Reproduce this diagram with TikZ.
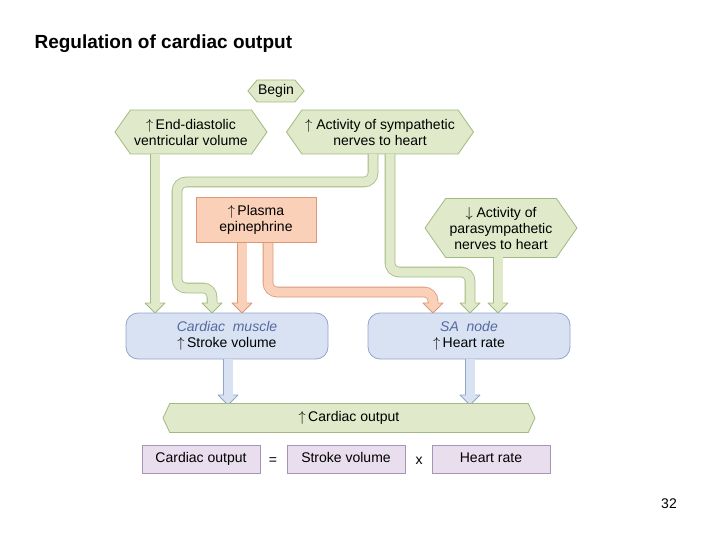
\documentclass[tikz,border=0pt]{standalone}
\usepackage{fontspec}
\setmainfont{Liberation Sans}
\usetikzlibrary{shapes.symbols}
\definecolor{gfill}{RGB}{224,233,201}
\definecolor{gbord}{RGB}{160,186,128}
\definecolor{ofill}{RGB}{251,208,184}
\definecolor{obord}{RGB}{222,150,118}
\definecolor{bfill}{RGB}{216,226,242}
\definecolor{bbord}{RGB}{148,164,202}
\definecolor{pfill}{RGB}{232,222,238}
\definecolor{pbord}{RGB}{168,148,182}
\definecolor{itc}{RGB}{85,105,160}
\newcommand{\fatarrow}[4]{%
 \draw[line width=0.8pt,draw=#2,double=#1,double distance=9pt,rounded corners=9pt] #3;
 \fill[#1,draw=#2,line width=0.8pt,line join=round] ($#4+(-10,-10)$) -- ($#4+(10,-10)$) -- #4 -- cycle;
 \fill[#1] ($#4+(-4.5,-11)$) rectangle ($#4+(4.5,-9)$);}
\usetikzlibrary{calc}
\begin{document}
\begin{tikzpicture}[x=1pt,y=-1pt,font=\fontsize{14}{16}\selectfont,
 hex/.style={shape=signal,signal to=west and east,signal pointer angle=110,fill=gfill,draw=gbord,line width=0.8pt,align=center,inner sep=1pt},
 rbox/.style={rounded corners=12pt,fill=bfill,draw=bbord,line width=0.8pt,align=center,minimum width=202pt,minimum height=46pt},
 pbox/.style={fill=pfill,draw=pbord,line width=0.8pt,minimum width=118pt,minimum height=28pt,text height=10pt,text depth=3pt}]
\useasboundingbox (0,0) rectangle (720,540);
\node[anchor=west,font=\fontsize{19}{22}\selectfont\bfseries] (title) at (31,44) {Regulation of cardiac output};
\node[hex,minimum width=50pt,minimum height=22pt,signal pointer angle=100] (begin) at (276,91) {Begin};
\node[hex,minimum width=152pt,minimum height=44pt] (edv) at (191,132) {$\uparrow$\,End-diastolic\\ventricular volume};
\node[hex,minimum width=187pt,minimum height=44pt] (sym) at (380,132) {$\uparrow$ Activity of sympathetic\\nerves to heart};
\node[fill=ofill,draw=obord,line width=0.8pt,minimum width=120pt,minimum height=45pt,align=center] (epi) at (256,220) {$\uparrow$\,Plasma\\epinephrine};
\node[hex,minimum width=152pt,minimum height=59pt] (para) at (501,228) {$\downarrow$ Activity of\\parasympathetic\\nerves to heart};
\fatarrow{gfill}{gbord}{(155,154) -- (155,303)}{(155,313)}
\fatarrow{gfill}{gbord}{(373,154) -- (373,182) -- (177,182) -- (177,288) -- (212,288) -- (212,303)}{(212,313)}
\fatarrow{gfill}{gbord}{(390,154) -- (390,272) -- (470,272) -- (470,303)}{(470,313)}
\fatarrow{ofill}{obord}{(242,243) -- (242,303)}{(242,313)}
\fatarrow{ofill}{obord}{(268,243) -- (268,292) -- (433,292) -- (433,303)}{(433,313)}
\fatarrow{gfill}{gbord}{(498,257) -- (498,303)}{(498,313)}
\node[rbox] (cm) at (227,336) {\textcolor{itc}{\itshape Cardiac\ \ muscle}\\$\uparrow$\,Stroke volume};
\node[rbox] (sa) at (469,336) {\textcolor{itc}{\itshape SA\ \ node}\\$\uparrow$\,Heart rate};
\fatarrow{bfill}{bbord}{(228,359) -- (228,395)}{(228,405)}
\fatarrow{bfill}{bbord}{(470,359) -- (470,395)}{(470,405)}
\node[hex,minimum width=372pt,minimum height=29pt,signal pointer angle=130] (co) at (349,418) {$\uparrow$\,Cardiac output};
\node[pbox] (b1) at (201,459) {Cardiac output};
\node (eq) at (273,461) {=};
\node[pbox] (b2) at (346,459) {Stroke volume};
\node (times) at (419,461) {x};
\node[pbox] (b3) at (491,459) {Heart rate};
\node (pg) at (669,504) {32};
\end{tikzpicture}
\end{document}
